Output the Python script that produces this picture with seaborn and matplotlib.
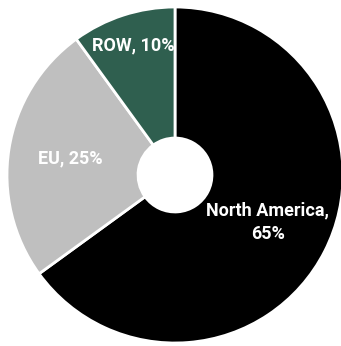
import numpy as np
import matplotlib
matplotlib.use("Agg")
import matplotlib.pyplot as plt
import seaborn as sns

regions = ["North America", "EU", "ROW"]
shares = [65, 25, 10]
colors = ["#000000", "#BFBFBF", "#2F5F4F"]
label_dist = [0.62, 0.63, 0.81]
label_text = ["North America,\n65%", "EU, 25%", "ROW, 10%"]

sns.set_theme(style="white")
plt.rcParams['font.family'] = ['Roboto', 'DejaVu Sans']

fig = plt.figure(figsize=(3.41, 3.46), dpi=100)
W, H = 341, 346
cx, cy, r = 175, 346 - 175, 168
ax = fig.add_axes([(cx - r) / W, (cy - r) / H, 2 * r / W, 2 * r / H])
wedges, _ = ax.pie(shares, colors=colors, startangle=90, counterclock=False,
                   radius=1, wedgeprops=dict(width=0.78, edgecolor="white", linewidth=2))
for w in wedges:
    w.set_clip_on(False)
for w, d, t in zip(wedges, label_dist, label_text):
    ang = np.deg2rad((w.theta1 + w.theta2) / 2)
    ax.text(d * np.cos(ang), d * np.sin(ang), t, ha="center", va="center",
            color="white", fontsize=13, fontweight="bold", linespacing=1.45,
            zorder=10, clip_on=False)
ax.set_xlim(-1, 1)
ax.set_ylim(-1, 1)
ax.axis("off")
fig.savefig("out.png", dpi=100)
